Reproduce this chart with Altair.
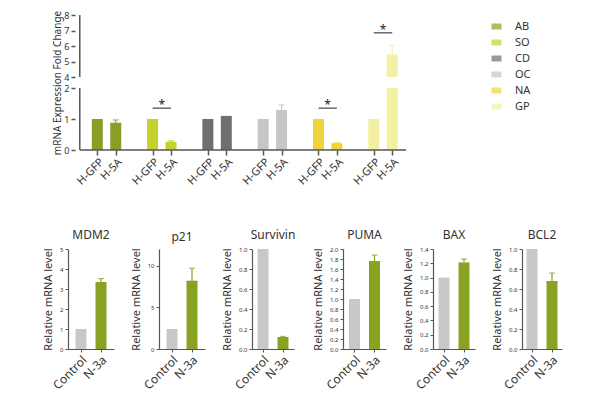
import altair as alt
import pandas as pd

# ---------------- data: top chart ----------------
groups = ["AB", "SO", "CD", "OC", "NA", "GP"]
conds = ["H-GFP", "H-5A"]
gfp_vals = [1.0, 1.0, 1.0, 1.0, 1.0, 1.0]
h5a_vals = [0.88, 0.27, 1.10, 1.29, 0.22, 5.45]
h5a_err = [0.09, 0.03, 0.0, 0.17, 0.02, 0.60]
group_colors = ["#8a9e26", "#c3d22c", "#6f6f6f", "#c6c6c6", "#efd33a", "#f3f0a3"]
sig_groups = ["SO", "NA", "GP"]
sig_levels = [1.35, 1.35, 6.85]
y_ticks_top = [0, 1, 2, 4, 5, 6, 7, 8]

# ---------------- data: bottom panels ----------------
genes = ["MDM2", "p21", "Survivin", "PUMA", "BAX", "BCL2"]
samples = ["Control", "N-3a"]
control_vals = [1.0, 2.4, 1.0, 1.0, 1.0, 1.0]
treated_vals = [3.35, 8.2, 0.12, 1.76, 1.21, 0.68]
treated_err = [0.17, 1.5, 0.006, 0.12, 0.05, 0.08]
y_max = [5, 12, 1.0, 2.0, 1.4, 1.0]
y_tick_vals = [
    [0, 1, 2, 3, 4, 5],
    [0, 5, 10],
    [0, 0.2, 0.4, 0.6, 0.8, 1.0],
    [0, 0.2, 0.4, 0.6, 0.8, 1.0, 1.2, 1.4, 1.6, 1.8, 2.0],
    [0, 0.2, 0.4, 0.6, 0.8, 1.0, 1.2, 1.4],
    [0, 0.2, 0.4, 0.6, 0.8, 1.0],
]
y_fmt = ["d", "d", ".1f", ".1f", ".1f", ".1f"]
panel_w = [46, 46, 42, 43, 42, 40]
sample_colors = ["#c8c8c8", "#88a222"]

FONT = "Noto Sans"
TXT = "#333333"
AX = "#555555"

# broken axis mapping (lower segment 0-2, upper segment 4-8 at half scale)
GAP = 11 / 31
def disp(v):
    return v if v <= 2 else 2 + GAP + (v - 4) * 0.5

XMIN, XMAX = -0.95, 16.75     # extent of the drawn x axis line
XLEFT = -1.318                # left edge of the data rectangle

rows = []
for gi, g in enumerate(groups):
    for ci, c in enumerate(conds):
        v = gfp_vals[gi] if ci == 0 else h5a_vals[gi]
        e = 0.0 if ci == 0 else h5a_err[gi]
        rows.append(dict(
            group=g, cond=c, pos=3 * gi + ci, value=v, err=e,
            hex=group_colors[gi],
            lo_top=disp(min(v, 2)),
            hi_bot=disp(4), hi_top=disp(v) if v > 4 else None,
            v_disp=disp(v), err_top=disp(v + e),
        ))
top_df = pd.DataFrame(rows)
err_df = top_df[top_df["err"] > 0]
hi_df = top_df[top_df["value"] > 4]

sig_df = pd.DataFrame(dict(
    x=[3 * groups.index(g) for g in sig_groups],
    x2=[3 * groups.index(g) + 1 for g in sig_groups],
    xm=[3 * groups.index(g) + 0.5 for g in sig_groups],
    y=[disp(s) for s in sig_levels],
    label=["*"] * len(sig_groups),
))
yaxis_df = pd.DataFrame(dict(x=[XMIN, XMIN], y=[0, disp(4)], y2=[2, disp(8)]))
xaxis_df = pd.DataFrame(dict(x=[XMIN], x2=[XMAX], y=[0]))

xs = alt.Scale(domain=[XLEFT, XMAX], nice=False, zero=False)
ys = alt.Scale(domain=[0, disp(8)], nice=False)

x_vals = list(top_df["pos"])
x_axis = alt.Axis(
    values=x_vals, tickCount=len(x_vals),
    labelExpr="datum.value % 3 == 0 ? 'H-GFP' : 'H-5A'",
    labelAngle=-45, labelAlign="right", labelBaseline="top",
    labelFontSize=11, labelColor=TXT, grid=False, domain=False,
    labelOverlap=False, labelFlush=False, labelPadding=1,
    tickColor=AX, tickWidth=1.5, tickSize=5,
    title=None,
)
y_vals = [disp(t) for t in y_ticks_top]
y_axis = alt.Axis(
    values=y_vals, tickCount=len(y_vals), offset=-7,
    labelExpr="datum.value <= 2.1 ? format(datum.value, 'd') : format(round(4 + (datum.value - %f) * 2), 'd')" % disp(4),
    labelFontSize=9, labelColor=TXT, grid=False, domain=False,
    labelOverlap=False, labelFlush=False,
    tickColor=AX, tickWidth=1.5, tickSize=4,
    title="mRNA Expression Fold Change", titleFontSize=10,
    titleFontWeight="normal", titleColor=TXT, titlePadding=1,
)

color_enc = alt.Color(
    "group:N",
    scale=alt.Scale(domain=groups, range=group_colors),
    legend=alt.Legend(title=None, symbolType="M-1,-0.6H1V0.6H-1Z", symbolSize=100,
                      labelFontSize=11, labelColor=TXT, rowPadding=4, labelOffset=13,
                      offset=74, padding=6, symbolStrokeWidth=0),
)

bars_lo = alt.Chart(top_df).mark_bar(size=11).encode(
    x=alt.X("pos:Q", scale=xs, axis=x_axis),
    y=alt.Y("lo_top:Q", scale=ys, axis=y_axis),
    color=color_enc,
)
bars_hi = alt.Chart(hi_df).mark_bar(size=11).encode(
    x=alt.X("pos:Q", scale=xs),
    y=alt.Y("hi_top:Q", scale=ys),
    y2="hi_bot:Q",
    color=alt.Color("group:N", scale=alt.Scale(domain=groups, range=group_colors)),
)
err_rule = alt.Chart(err_df).mark_rule(strokeWidth=1.2).encode(
    x=alt.X("pos:Q", scale=xs), y=alt.Y("v_disp:Q", scale=ys), y2="err_top:Q",
    color=alt.Color("hex:N", scale=None),
)
err_cap = alt.Chart(err_df).mark_tick(orient="horizontal", size=6, thickness=1.2).encode(
    x=alt.X("pos:Q", scale=xs), y=alt.Y("err_top:Q", scale=ys),
    color=alt.Color("hex:N", scale=None),
)
sig_rule = alt.Chart(sig_df).mark_rule(color="#444444", strokeWidth=1.2).encode(
    x=alt.X("x:Q", scale=xs), x2="x2:Q", y=alt.Y("y:Q", scale=ys),
)
sig_text = alt.Chart(sig_df).mark_text(font=FONT, fontSize=12, color="#222222", dy=-3).encode(
    x=alt.X("xm:Q", scale=xs), y=alt.Y("y:Q", scale=ys), text="label:N",
)
yaxis_rule = alt.Chart(yaxis_df).mark_rule(color=AX, strokeWidth=1.5).encode(
    x=alt.X("x:Q", scale=xs), y=alt.Y("y:Q", scale=ys), y2="y2:Q",
)
xaxis_rule = alt.Chart(xaxis_df).mark_rule(color=AX, strokeWidth=1.5).encode(
    x=alt.X("x:Q", scale=xs), x2="x2:Q", y=alt.Y("y:Q", scale=ys),
)

top = alt.layer(bars_lo, bars_hi, err_rule, err_cap, sig_rule, sig_text,
                yaxis_rule, xaxis_rule).properties(width=343, height=135)

# ---------------- bottom panels ----------------
panels = []
for i, gname in enumerate(genes):
    pdf = pd.DataFrame(dict(sample=samples, value=[control_vals[i], treated_vals[i]]))
    edf = pd.DataFrame(dict(sample=[samples[1]], value=[treated_vals[i]],
                            top=[treated_vals[i] + treated_err[i]]))
    w = panel_w[i]
    po = max(0.0, (w / 20 - 1.55) / 2)
    px = alt.Scale(domain=samples, paddingInner=0.45, paddingOuter=po)
    py = alt.Scale(domain=[0, y_max[i]], nice=False)
    xa = alt.Axis(labelAngle=-45, labelAlign="right", labelBaseline="top",
                  labelFontSize=12, labelColor=TXT, title=None, labelOverlap=False,
                  domainColor=AX, domainWidth=1.2, tickColor=AX, tickSize=3)
    ya = alt.Axis(values=y_tick_vals[i], tickCount=len(y_tick_vals[i]),
                  format=y_fmt[i], labelFontSize=6,
                  labelColor=TXT, grid=False, domainColor=AX, domainWidth=1.2,
                  labelOverlap=False, labelFlush=False,
                  tickColor=AX, tickSize=3, title="Relative mRNA level",
                  titleFontSize=11, titleFontWeight="normal", titleColor=TXT,
                  titlePadding=6)
    b = alt.Chart(pdf).mark_bar(size=11).encode(
        x=alt.X("sample:N", scale=px, axis=xa, sort=samples),
        y=alt.Y("value:Q", scale=py, axis=ya),
        color=alt.Color("sample:N", scale=alt.Scale(domain=samples, range=sample_colors), legend=None),
    )
    r = alt.Chart(edf).mark_rule(color=sample_colors[1], strokeWidth=1.2).encode(
        x=alt.X("sample:N", scale=px, sort=samples), y=alt.Y("value:Q", scale=py), y2="top:Q",
    )
    t = alt.Chart(edf).mark_tick(orient="horizontal", size=6, thickness=1.2, color=sample_colors[1]).encode(
        x=alt.X("sample:N", scale=px, sort=samples), y=alt.Y("top:Q", scale=py),
    )
    panels.append(alt.layer(b, r, t).properties(
        width=w, height=100,
        title=alt.TitleParams(gname, fontSize=12, fontWeight="normal", color=TXT, font=FONT, offset=4),
    ))

bottom = alt.hconcat(*panels, spacing=16)

chart = alt.vconcat(top, bottom, spacing=42).resolve_scale(color="independent").resolve_legend(
    color="independent"
).properties(
    padding={"left": 34, "top": 2, "right": 5, "bottom": 0}
).configure(font=FONT).configure_view(stroke=None).configure_axis(
    labelOverlap=False, labelFlush=False
)

chart.save("out.html", embed_options={"renderer": "svg", "actions": False})
